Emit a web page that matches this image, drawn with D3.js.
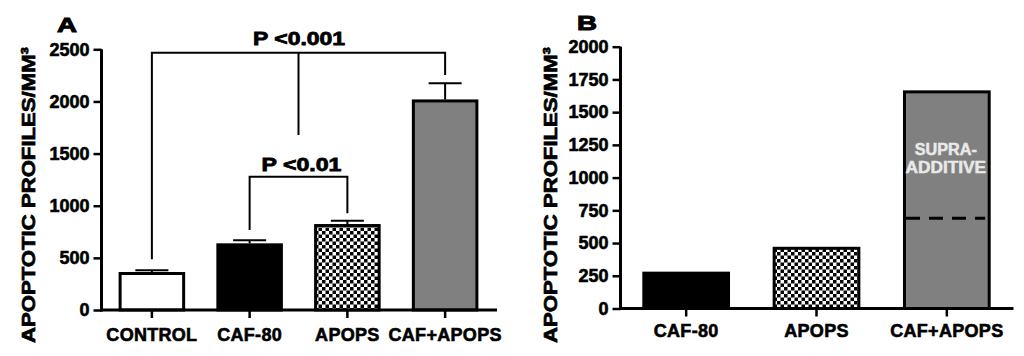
<!DOCTYPE html>
<html><head><meta charset="utf-8">
<script src="https://cdn.jsdelivr.net/npm/d3@7"></script>
<style>
html,body{margin:0;padding:0;background:#fff;}
svg{display:block;font-family:"Liberation Sans",Arial,Helvetica,sans-serif;font-weight:bold;}
</style></head>
<body>
<svg id="chart" width="1024" height="356"></svg>
<script>
// ---------- DATA ----------
const catsA = ["CONTROL", "CAF-80", "APOPS", "CAF+APOPS"];
const meansA = [350, 625, 810, 2005];
const errTopA = [380, 670, 855, 2175];
const fillsA = ["white", "black", "check", "gray"];
const ticksA = [0, 500, 1000, 1500, 2000, 2500];

const catsB = ["CAF-80", "APOPS", "CAF+APOPS"];
const valuesB = [270, 460, 1655];
const fillsB = ["black", "check", "gray"];
const ticksB = [0, 250, 500, 750, 1000, 1250, 1500, 1750, 2000];
const additiveLineB = 690;            // dashed line inside CAF+APOPS bar
const supraLabelB = ["SUPRA-", "ADDITIVE"];
const supraLabelValB = 1172;          // baseline of first label line (data units)

// significance brackets (panel A)
const bracketLabels = ["P <0.001", "P <0.01"];
const bracketFrom = ["CONTROL", "CAF-80"];
const bracketTo = ["CAF+APOPS", "APOPS"];
const bracketLevel = [2468, 1278];
const bracketLeftLeg = [486, 767];
const bracketRightLeg = [2254, 927];
const bracketStem = [1678, null];     // center stem going down (between CAF-80 & APOPS)

const yLabel = "APOPTOTIC PROFILES/MM³";

// ---------- SETUP ----------
const svg = d3.select("#chart");
const defs = svg.append("defs");
const pat = defs.append("pattern").attr("id", "check")
  .attr("patternUnits", "userSpaceOnUse").attr("width", 7).attr("height", 7);
pat.append("rect").attr("width", 7).attr("height", 7).attr("fill", "white");
pat.append("rect").attr("width", 3.5).attr("height", 3.5).attr("fill", "black");
pat.append("rect").attr("x", 3.5).attr("y", 3.5).attr("width", 3.5).attr("height", 3.5).attr("fill", "black");

const fillMap = {white: "#ffffff", black: "#000000", gray: "#808080", check: "url(#check)"};
const FONT = 18;
const FF = "Liberation Sans, Arial, sans-serif";

function heavy(sel, w) {
  return sel.attr("font-family", FF).attr("font-weight", "bold")
    .attr("stroke", sel.attr("fill") || "#000").attr("stroke-width", w).attr("paint-order", "stroke");
}

function panel(opts) {
  const g = svg.append("g");
  const x = d3.scaleBand().domain(opts.cats).range(opts.xRange).paddingInner(0.35).paddingOuter(0.175);
  const y = d3.scaleLinear().domain(opts.yDomain).range(opts.yRange);

  // bars
  g.selectAll("rect.bar").data(opts.cats).join("rect")
    .attr("class", "bar")
    .attr("x", d => x(d))
    .attr("width", x.bandwidth())
    .attr("y", (d, i) => y(opts.values[i]))
    .attr("height", (d, i) => y(0) - y(opts.values[i]))
    .attr("fill", (d, i) => fillMap[opts.fills[i]])
    .attr("stroke", "#000").attr("stroke-width", 3);

  // error bars
  if (opts.errTop) {
    const capW = x.bandwidth() * 0.52;
    opts.cats.forEach((c, i) => {
      const cx = x(c) + x.bandwidth() / 2;
      g.append("line").attr("x1", cx).attr("x2", cx)
        .attr("y1", y(opts.values[i]) - 1.5).attr("y2", y(opts.errTop[i]))
        .attr("stroke", "#000").attr("stroke-width", 2);
      g.append("line").attr("x1", cx - capW / 2).attr("x2", cx + capW / 2)
        .attr("y1", y(opts.errTop[i])).attr("y2", y(opts.errTop[i]))
        .attr("stroke", "#000").attr("stroke-width", 2);
    });
  }

  // y axis
  const ya = g.append("g").attr("transform", `translate(${opts.axisX},0)`)
    .call(d3.axisLeft(y).tickValues(opts.ticks).tickFormat(d3.format("d"))
      .tickSize(8).tickSizeOuter(0).tickPadding(4));
  ya.select(".domain").attr("stroke-width", 3).attr("d", `M0,${y(opts.yDomain[1])}V${y(0) + 1.5}`);
  ya.selectAll(".tick line").attr("stroke-width", 2.5);
  ya.selectAll(".tick text").attr("font-size", FONT).attr("fill", "#000")
    .attr("textLength", d => String(d).length * 10).attr("lengthAdjust", "spacingAndGlyphs")
    .call(heavy, 0.6);

  // x axis
  const xa = g.append("g").attr("transform", `translate(0,${y(0)})`)
    .call(d3.axisBottom(x).tickSize(8).tickSizeOuter(0).tickPadding(0));
  xa.select(".domain").remove();
  xa.selectAll(".tick line").attr("stroke-width", 2.5);
  xa.selectAll(".tick text").attr("font-size", FONT).attr("fill", "#000")
    .attr("letter-spacing", 0.3)
    .attr("y", opts.xLabelOffset).attr("dy", 0)
    .call(heavy, 0.6);
  g.append("line").attr("x1", opts.axisX - 1.5).attr("x2", opts.axisEnd)
    .attr("y1", y(0)).attr("y2", y(0)).attr("stroke", "#000").attr("stroke-width", 3);

  // y label
  g.append("text")
    .attr("transform", `translate(${opts.yLabelX},${opts.yLabelCY}) rotate(-90)`)
    .attr("text-anchor", "middle").attr("font-size", 19).attr("fill", "#000")
    .attr("textLength", 296).attr("lengthAdjust", "spacingAndGlyphs")
    .text(yLabel).call(heavy, 0.7);

  // panel letter
  g.append("text").attr("x", opts.letterX).attr("y", opts.letterY).attr("fill", "#000")
    .attr("font-size", 21).attr("textLength", 20).attr("lengthAdjust", "spacingAndGlyphs")
    .text(opts.letter).call(heavy, 1);

  return {g, x, y};
}

// ---------- PANEL A ----------
const A = panel({
  cats: catsA, values: meansA, fills: fillsA, errTop: errTopA, ticks: ticksA,
  xRange: [103, 494], yDomain: [0, 2500], yRange: [310, 49.3],
  axisX: 101.5, axisEnd: 497, xLabelOffset: 31,
  yLabelX: 35, yLabelCY: 195, letter: "A", letterX: 57, letterY: 31.7
});

// brackets
bracketLabels.forEach((lab, i) => {
  const cx = c => A.x(c) + A.x.bandwidth() / 2;
  const x1 = cx(bracketFrom[i]), x2 = cx(bracketTo[i]);
  const yl = A.y(bracketLevel[i]);
  const path = d3.path();
  path.moveTo(x1, A.y(bracketLeftLeg[i]));
  path.lineTo(x1, yl);
  path.lineTo(x2, yl);
  path.lineTo(x2, A.y(bracketRightLeg[i]));
  A.g.append("path").attr("d", path.toString()).attr("fill", "none")
    .attr("stroke", "#000").attr("stroke-width", 2);
  let mid = (x1 + x2) / 2;
  if (bracketStem[i] != null) {
    mid = (cx("CAF-80") + cx("APOPS")) / 2;
    A.g.append("line").attr("x1", mid).attr("x2", mid)
      .attr("y1", yl).attr("y2", A.y(bracketStem[i]))
      .attr("stroke", "#000").attr("stroke-width", 2);
  }
  A.g.append("text").attr("x", i === 0 ? mid + 0.5 : mid + 3).attr("y", yl - (i === 0 ? 7.5 : 6))
    .attr("text-anchor", "middle").attr("font-size", 18.5).attr("fill", "#000")
    .attr("textLength", i === 0 ? 92 : 80).attr("lengthAdjust", "spacingAndGlyphs")
    .text(lab).call(heavy, 0.8);
});

// ---------- PANEL B ----------
const B = panel({
  cats: catsB, values: valuesB, fills: fillsB, errTop: null, ticks: ticksB,
  xRange: [621, 1012], yDomain: [0, 2000], yRange: [308.5, 46.7],
  axisX: 620.5, axisEnd: 1013.5, xLabelOffset: 28.5,
  yLabelX: 557, yLabelCY: 195, letter: "B", letterX: 577, letterY: 30
});

const bx = B.x("CAF+APOPS"), bw = B.x.bandwidth();
B.g.append("line").attr("x1", bx + 1.5).attr("x2", bx + bw - 4)
  .attr("y1", B.y(additiveLineB)).attr("y2", B.y(additiveLineB))
  .attr("stroke", "#000").attr("stroke-width", 3).attr("stroke-dasharray", "14,9");

supraLabelB.forEach((t, i) => {
  B.g.append("text").attr("x", bx + bw / 2 - 1).attr("y", B.y(supraLabelValB) + i * 18.3)
    .attr("text-anchor", "middle").attr("font-size", 16).attr("fill", "#e9e9e9")
    .attr("textLength", i === 0 ? 62 : 80.5).attr("lengthAdjust", "spacingAndGlyphs")
    .text(t).call(heavy, 0.5);
});
</script>
</body></html>
